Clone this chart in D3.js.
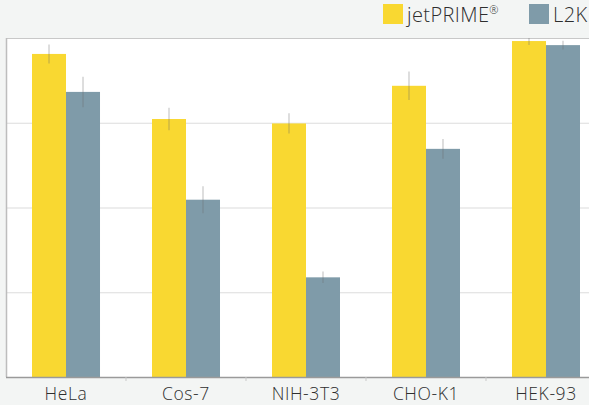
<!DOCTYPE html>
<html>
<head>
<meta charset="utf-8">
<script src="https://cdn.jsdelivr.net/npm/d3@7"></script>
<style>
  body { margin: 0; background: #f3f5f4; overflow: hidden; }
  svg { display: block; font-family: "Open Sans", "Lato", sans-serif; font-weight: 300; }
</style>
</head>
<body>
<div id="chart"></div>
<script>
// values (percent of max)
var categories = ["HeLa", "Cos-7", "NIH-3T3", "CHO-K1", "HEK-93"];
var seriesNames = ["jetPRIME", "L2K"];
var jetPrime = [95.3, 76.1, 74.8, 85.9, 99.1];
var jetPrimeErr = [2.8, 3.3, 3.0, 4.2, 1.2];
var l2k = [84.1, 52.3, 29.4, 67.3, 97.9];
var l2kErr = [4.5, 4.0, 1.7, 2.9, 1.3];
var gridTicks = [0, 25, 50, 75, 100];

var colors = { jetPRIME: "#f9d831", L2K: "#7f9ba9" };

var width = 589, height = 405;
// the plot runs past the right edge of the window, as in the original
var plot = { left: 6, right: 606, top: 38, bottom: 377 };

var svg = d3.select("#chart").append("svg")
    .attr("width", width)
    .attr("height", height);

svg.append("rect")
    .attr("width", width).attr("height", height)
    .attr("fill", "#f3f5f4");

svg.append("rect")
    .attr("x", plot.left).attr("y", plot.top)
    .attr("width", plot.right - plot.left)
    .attr("height", plot.bottom - plot.top)
    .attr("fill", "#fff");

var x = d3.scaleBand()
    .domain(categories)
    .range([plot.left, plot.right])
    .paddingInner(0.4333)
    .paddingOuter(0.2167);

var xs = d3.scaleBand()
    .domain(seriesNames)
    .range([0, x.bandwidth()]);

var y = d3.scaleLinear()
    .domain([0, 100])
    .range([plot.bottom, plot.top]);

// gridlines
svg.append("g").selectAll("line")
    .data(gridTicks.slice(1))
    .join("line")
    .attr("x1", plot.left).attr("x2", plot.right)
    .attr("y1", function (d) { return y(d) + 0.5; })
    .attr("y2", function (d) { return y(d) + 0.5; })
    .attr("stroke", function (d) { return d === 100 ? "#c8c8c8" : "#dcdcdc"; })
    .attr("stroke-width", 1.2);

// left border
svg.append("line")
    .attr("x1", plot.left + 0.5).attr("x2", plot.left + 0.5)
    .attr("y1", plot.top).attr("y2", plot.bottom)
    .attr("stroke", "#bdbdbd").attr("stroke-width", 1.5);

var rows = categories.map(function (c, i) {
    return {
        cat: c,
        bars: [
            { name: "jetPRIME", value: jetPrime[i], err: jetPrimeErr[i] },
            { name: "L2K", value: l2k[i], err: l2kErr[i] }
        ]
    };
});

var groups = svg.append("g").selectAll("g")
    .data(rows)
    .join("g")
    .attr("transform", function (d) { return "translate(" + x(d.cat) + ",0)"; });

groups.selectAll("rect")
    .data(function (d) { return d.bars; })
    .join("rect")
    .attr("x", function (d) { return xs(d.name); })
    .attr("width", xs.bandwidth())
    .attr("y", function (d) { return y(d.value); })
    .attr("height", function (d) { return y(0) - y(d.value); })
    .attr("fill", function (d) { return colors[d.name]; });

// error bars
groups.selectAll("line.err")
    .data(function (d) { return d.bars; })
    .join("line")
    .attr("class", "err")
    .attr("x1", function (d) { return xs(d.name) + xs.bandwidth() / 2; })
    .attr("x2", function (d) { return xs(d.name) + xs.bandwidth() / 2; })
    .attr("y1", function (d) { return Math.max(y(d.value + d.err), plot.top); })
    .attr("y2", function (d) { return y(d.value - d.err); })
    .attr("stroke", "rgba(110,110,110,0.3)")
    .attr("stroke-width", 1.5);

// x axis
var xAxis = svg.append("g")
    .attr("transform", "translate(0," + plot.bottom + ")");

xAxis.append("line")
    .attr("x1", plot.left).attr("x2", plot.right)
    .attr("y1", 0.5).attr("y2", 0.5)
    .attr("stroke", "#9a9a9a").attr("stroke-width", 1.5);

xAxis.selectAll("line.tick")
    .data(categories.slice(1))
    .join("line")
    .attr("class", "tick")
    .attr("x1", function (d) { return x(d) - x.step() * x.paddingOuter(); })
    .attr("x2", function (d) { return x(d) - x.step() * x.paddingOuter(); })
    .attr("y1", 0).attr("y2", 4)
    .attr("stroke", "#c8c8c8");

xAxis.selectAll("text")
    .data(categories)
    .join("text")
    .attr("x", function (d) { return x(d) + x.bandwidth() / 2; })
    .attr("y", 23)
    .attr("text-anchor", "middle")
    .attr("font-size", 17.5)
    .attr("letter-spacing", 0.6)
    .attr("fill", "#2e2e2e")
    .text(function (d) { return d; });

// legend
var legendX = [383, 529];
var legend = svg.append("g").selectAll("g")
    .data(seriesNames)
    .join("g")
    .attr("transform", function (d, i) { return "translate(" + legendX[i] + ",4)"; });

legend.append("rect")
    .attr("width", 20).attr("height", 20)
    .attr("fill", function (d) { return colors[d]; });

var labels = legend.append("text")
    .attr("x", 24)
    .attr("y", 18)
    .attr("font-size", 20)
    .attr("letter-spacing", 0.4)
    .attr("fill", "#2e2e2e");

labels.append("tspan").text(function (d) { return d; });
labels.filter(function (d) { return d === "jetPRIME"; })
    .append("tspan")
    .attr("font-size", 11)
    .attr("dy", -8)
    .text("®");
</script>
</body>
</html>
